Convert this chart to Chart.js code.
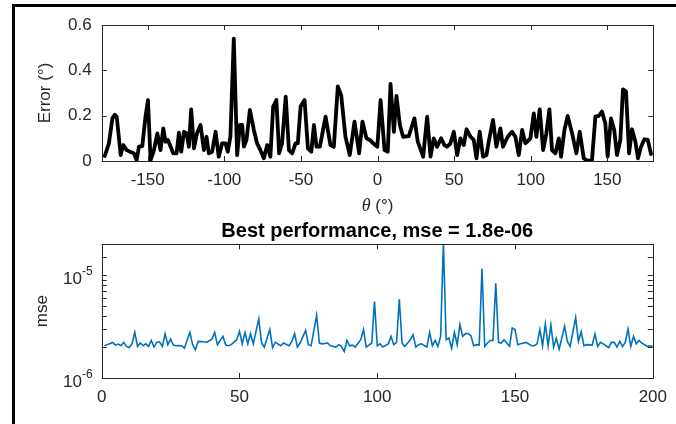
<!DOCTYPE html>
<html>
<head>
<meta charset="utf-8">
<script src="https://cdn.jsdelivr.net/npm/chart.js@4.4.1/dist/chart.umd.min.js"></script>
<style>
  html, body { margin: 0; padding: 0; background: #fff; }
  #wrap { position: relative; width: 676px; height: 424px; overflow: hidden; background: #fff; }
  #c1 { position: absolute; left: 0; top: 0; }
  #c2 { position: absolute; left: 0; top: 215px; }
  #frame { position: absolute; left: 12px; top: 4px; width: 700px; height: 440px;
           border-left: 3px solid #000; border-top: 3px solid #000; pointer-events: none; }
</style>
</head>
<body>
<div id="wrap">
  <canvas id="c1" width="676" height="215"></canvas>
  <canvas id="c2" width="676" height="209"></canvas>
  <div id="frame"></div>
</div>
<script>
// ---- top panel: angle error vs theta ----
const thetaDeg = [
  -178, -175.3, -173, -171.5, -170.2, -167.6, -165.9, -163.7, -161.1, -159, -157.2, -155.7, -153.5,
  -151.4, -149.8, -148.1, -145.9, -143.7, -141.6, -139.8, -138.3, -136.8, -135, -133.3, -131.1,
  -129.6, -128.1, -126.3, -124.6, -123.1, -121.6, -119.8, -117.7, -115.5, -113.3, -111.6, -110.1,
  -107.9, -105.7, -103.6, -101.4, -99.2, -97.7, -96, -93.8, -91.6, -89.8, -88.3, -87.2, -85.5,
  -83.3, -80.7, -78.6, -76.4, -74.2, -72, -69.9, -68.1, -66, -64.2, -62.3, -59.9,
  -57.8, -55.7, -53.5, -52, -50.2, -47.6, -45.4, -43.2, -41.5, -39.8, -37.6, -33.9, -30.7, -28.5,
  -25.9, -23.7, -20.9, -18.1, -15, -12, -9.8, -7.2, -5, -2.8, -0.1, 2, 4.6, 6.7, 8.5, 10.7, 12.4,
  14.6, 16.7, 20.4, 24.1, 26.3, 29.8, 32.4, 34.6, 36.7, 38.9, 41.5, 43.7, 45.4, 47.6, 49.8, 52,
  54.1, 56.3, 58.1,
  60.7, 62.8, 64.6, 66.7, 68.9, 71.1, 72.6, 75.4, 77.6, 80.2, 81.9, 85, 87.8, 90, 92.2, 94.4, 96.5,
  99.8, 102, 103.7, 105.9, 108.1, 110.2, 112.2, 113.9, 116.1, 118.3, 119.8, 122, 124.1, 127, 129.8,
  132, 134.6, 136.8, 140, 142.2, 144.4, 146.5, 148.7, 150.2, 152.4, 154.5, 156.3, 158.5, 160.2,
  162.2, 164.2, 166.1, 168.3, 170, 172, 174.2, 176.4, 178.5
];
const errorDeg = [
  0.022, 0.078, 0.188, 0.204, 0.196, 0.026, 0.07, 0.048, 0.04, 0.034, 0.004, 0.063, 0.066,
  0.196, 0.269, 0.004, 0.048, 0.122, 0.048, 0.144, 0.085, 0.093, 0.063, 0.034, 0.034,
  0.125, 0.041, 0.129, 0.122, 0.063, 0.228, 0.056, 0.125, 0.159, 0.048, 0.107, 0.034,
  0.041, 0.129, 0.019, 0.078, 0.078, 0.041, 0.107, 0.54, 0.026, 0.159, 0.159, 0.063, 0.093,
  0.225, 0.137, 0.078, 0.048, 0.012, 0.07, 0.019, 0.24, 0.269, 0.034, 0.078, 0.284,
  0.048, 0.034, 0.078, 0.078, 0.24, 0.269, 0.056, 0.041, 0.159, 0.063, 0.063, 0.196, 0.07, 0.063,
  0.329, 0.29, 0.107, 0.026, 0.174, 0.034, 0.174, 0.1, 0.093, 0.078, 0.063, 0.269, 0.048, 0.041, 0.34, 0.129, 0.287,
  0.159, 0.107, 0.11, 0.188, 0.085, 0.019, 0.196, 0.019, 0.1, 0.063, 0.1, 0.07, 0.063, 0.078, 0.129, 0.026,
  0.1, 0.07, 0.14,
  0.107, 0.093, 0.012, 0.129, 0.019, 0.026, 0.085, 0.181, 0.063, 0.144, 0.063, 0.107, 0.129, 0.107, 0.026, 0.137, 0.078,
  0.1, 0.21, 0.107, 0.228, 0.048, 0.122, 0.228, 0.048, 0.034, 0.1, 0.019, 0.137, 0.199, 0.122, 0.034,
  0.129, 0.012, 0.001, 0.004, 0.196, 0.199, 0.218, 0.166, 0.019, 0.188, 0.137, 0.026, 0.093, 0.316,
  0.306, 0.034, 0.14, 0.085, 0.012, 0.063, 0.096, 0.093, 0.031
];
const thetaTicks = [-150, -100, -50, 0, 50, 100, 150];
const errorTicks = [0, 0.2, 0.4, 0.6];

// ---- bottom panel: mse per epoch ----
const epochs = [
  1, 2, 4, 5, 6, 7, 8, 9, 10, 11, 12, 13, 14, 15, 16, 17, 18, 19, 20, 21, 22, 23, 24, 25, 26, 27, 28, 29, 30,
  32, 33, 34, 35, 37, 38, 40, 41, 42, 44, 45, 46, 47, 49, 50, 51, 52, 53, 54, 55, 57, 58, 59, 61, 62, 63, 65, 66, 68,
  69, 70, 71, 72, 74, 75, 76, 78, 79, 80, 82, 83, 85, 86, 87, 88, 89, 90, 91, 92, 94, 95, 96, 98, 99,
  100, 101, 102, 104, 105, 106, 107, 108, 109, 110, 112, 113, 114, 115, 116, 118, 119, 120, 121, 122, 123,
  124, 125, 126, 127, 128, 129, 130, 131, 132, 133, 134, 135, 136,
  137, 138, 139, 140, 141, 142, 143, 144, 145, 146, 147, 148, 149, 150, 151, 152, 154, 156, 157, 158, 159,
  160, 161, 162, 163, 164, 165, 166, 168, 169, 170, 172, 173, 174, 175, 176, 178, 179, 180, 181, 182, 183,
  184, 185, 186, 187, 188, 189, 190, 191, 192, 193, 194, 195, 196, 198, 199, 200
];
const mse = [
  2.06e-6, 2.11e-6, 2.22e-6, 2.09e-6, 2.14e-6, 2.06e-6, 2.22e-6, 2.03e-6, 1.98e-6, 2.15e-6, 2.78e-6, 2.03e-6,
  2.19e-6, 2.06e-6, 2.15e-6, 2.03e-6, 2.32e-6, 2.00e-6, 2.22e-6, 2.25e-6, 2.03e-6, 2.70e-6, 2.11e-6, 2.39e-6,
  2.09e-6, 2.06e-6, 2.07e-6, 2.06e-6, 1.95e-6,
  2.78e-6, 2.11e-6, 1.88e-6, 2.27e-6, 2.25e-6, 2.22e-6, 2.39e-6, 2.78e-6, 2.11e-6, 2.54e-6, 2.09e-6, 2.06e-6,
  2.11e-6, 2.36e-6, 2.85e-6, 2.15e-6, 2.78e-6, 2.15e-6, 2.70e-6, 2.15e-6, 3.76e-6, 2.19e-6, 2.00e-6, 2.96e-6,
  1.98e-6, 2.22e-6, 2.06e-6, 2.19e-6, 2.06e-6,
  2.27e-6, 2.70e-6, 2.00e-6, 2.19e-6, 2.91e-6, 2.11e-6, 2.06e-6, 4.08e-6, 2.19e-6, 2.15e-6, 2.19e-6, 2.06e-6,
  2.00e-6, 2.11e-6, 2.03e-6, 1.81e-6, 2.32e-6, 2.06e-6, 2.09e-6, 2.00e-6, 2.36e-6, 2.96e-6, 2.00e-6, 2.19e-6, 5.56e-6,
  2.06e-6, 2.15e-6, 2.00e-6, 2.15e-6, 2.54e-6, 2.11e-6, 2.22e-6, 5.82e-6, 2.19e-6, 2.03e-6, 2.36e-6, 2.64e-6,
  2.00e-6, 2.11e-6, 2.15e-6, 2.00e-6, 2.78e-6, 2.06e-6, 2.32e-6, 2.03e-6, 2.54e-6,
  2.06e-5, 2.36e-6, 2.45e-6, 1.95e-6, 2.78e-6, 2.11e-6, 3.31e-6, 2.54e-6, 2.70e-6, 2.70e-6, 2.58e-6, 2.06e-6, 2.11e-6,
  2.09e-6, 1.16e-5, 2.03e-6, 2.19e-6, 2.32e-6, 2.32e-6, 8.35e-6, 2.22e-6, 2.19e-6, 2.36e-6, 2.19e-6, 2.03e-6,
  3.07e-6, 2.96e-6, 2.11e-6, 2.15e-6, 2.22e-6, 2.06e-6, 2.06e-6, 2.15e-6, 2.96e-6,
  2.06e-6, 3.36e-6, 2.06e-6, 3.28e-6, 2.00e-6, 2.43e-6, 1.91e-6, 3.19e-6, 2.27e-6, 2.03e-6, 3.87e-6, 2.27e-6,
  2.82e-6, 2.06e-6, 2.11e-6, 2.09e-6, 2.68e-6, 2.03e-6, 2.22e-6, 2.15e-6, 2.06e-6,
  1.98e-6, 2.22e-6, 2.22e-6, 2.00e-6, 2.27e-6, 2.03e-6, 2.22e-6, 3.00e-6, 2.03e-6, 2.54e-6, 2.15e-6, 2.32e-6,
  2.19e-6, 2.03e-6, 2.06e-6, 2.03e-6
];
const epochTicks = [0, 50, 100, 150, 200];
const mseTickBase = '10';
const mseTickExponents = ['-6', '-5'];

const axisColor = '#262626';
const fontFamily = '"Liberation Sans", Arial, sans-serif';
const tickFont = { family: fontFamily, size: 17 };

// MATLAB-style box with inward ticks on all four sides
const axesBox = {
  id: 'axesBox',
  afterDatasetsDraw(chart) {
    const { ctx, chartArea: a, scales } = chart;
    const tl = 5;
    ctx.save();
    ctx.strokeStyle = axisColor;
    ctx.lineWidth = 1;
    ctx.beginPath();
    scales.x.ticks.forEach(t => {
      const px = Math.round(scales.x.getPixelForValue(t.value)) + 0.5;
      ctx.moveTo(px, a.bottom); ctx.lineTo(px, a.bottom - tl);
      ctx.moveTo(px, a.top); ctx.lineTo(px, a.top + tl);
    });
    scales.y.ticks.forEach(t => {
      const py = Math.round(scales.y.getPixelForValue(t.value)) + 0.5;
      ctx.moveTo(a.left, py); ctx.lineTo(a.left + tl, py);
      ctx.moveTo(a.right, py); ctx.lineTo(a.right - tl, py);
    });
    ctx.stroke();
    ctx.strokeRect(Math.round(a.left) + 0.5, Math.round(a.top) + 0.5,
                   Math.round(a.right) - Math.round(a.left), Math.round(a.bottom) - Math.round(a.top));
    ctx.restore();
  }
};

// theta axis label with italic theta
const thetaTitle = {
  id: 'thetaTitle',
  afterDraw(chart) {
    const { ctx, chartArea: a } = chart;
    const part1 = 'θ', part2 = ' (°)';
    const f1 = 'italic 18px "Liberation Serif", serif';
    const f2 = '17px ' + fontFamily;
    ctx.save();
    ctx.font = f1; const w1 = ctx.measureText(part1).width;
    ctx.font = f2; const w2 = ctx.measureText(part2).width;
    const x0 = (a.left + a.right) / 2 - (w1 + w2) / 2;
    const y = 206;
    ctx.fillStyle = axisColor;
    ctx.textBaseline = 'middle';
    ctx.textAlign = 'left';
    ctx.font = f1; ctx.fillText(part1, x0, y);
    ctx.font = f2; ctx.fillText(part2, x0 + w1, y);
    ctx.restore();
  }
};

// decade labels 10^n on the log axis, with a raised exponent
const decadeLabels = {
  id: 'decadeLabels',
  afterDraw(chart) {
    const { ctx, chartArea: a, scales } = chart;
    const right = a.left - 9;
    ctx.save();
    ctx.fillStyle = axisColor;
    ctx.textAlign = 'right';
    mseTickExponents.forEach(ex => {
      const py = scales.y.getPixelForValue(Math.pow(10, Number(ex)));
      ctx.font = '12px ' + fontFamily;
      const we = ctx.measureText(ex).width;
      ctx.textBaseline = 'alphabetic';
      ctx.fillText(ex, right, py - 0.5);
      ctx.font = '17px ' + fontFamily;
      ctx.textBaseline = 'middle';
      ctx.fillText(mseTickBase, right - we, py + 4);
    });
    ctx.restore();
  }
};

new Chart(document.getElementById('c1'), {
  type: 'line',
  data: {
    datasets: [{
      data: thetaDeg.map((t, i) => ({ x: t, y: errorDeg[i] })),
      borderColor: '#000000',
      borderWidth: 3.8,
      borderJoinStyle: 'round',
      borderCapStyle: 'round',
      pointRadius: 0,
      tension: 0,
      clip: 0
    }]
  },
  options: {
    animation: false,
    responsive: false,
    layout: { padding: { top: 25, right: 22.7, bottom: 0, left: 0 } },
    plugins: { legend: { display: false }, tooltip: { enabled: false } },
    scales: {
      x: {
        type: 'linear', min: -180, max: 180,
        afterBuildTicks: s => { s.ticks = thetaTicks.map(v => ({ value: v })); },
        afterFit: s => { s.height = 54; },
        grid: { display: false, drawTicks: false },
        border: { display: false },
        ticks: { font: tickFont, color: axisColor, padding: 9, maxRotation: 0, autoSkip: false }
      },
      y: {
        min: 0, max: 0.6,
        afterBuildTicks: s => { s.ticks = errorTicks.map(v => ({ value: v })); },
        afterFit: s => { s.width = 101.7; },
        grid: { display: false, drawTicks: false },
        border: { display: false },
        ticks: { font: tickFont, color: axisColor, padding: 10 },
        title: { display: true, text: 'Error (°)', color: axisColor,
                 font: { family: fontFamily, size: 17 }, padding: { top: 35, bottom: 0 } }
      }
    }
  },
  plugins: [axesBox, thetaTitle]
});

new Chart(document.getElementById('c2'), {
  type: 'line',
  data: {
    datasets: [{
      data: epochs.map((e, i) => ({ x: e, y: mse[i] })),
      borderColor: '#0072BD',
      borderWidth: 1.6,
      pointRadius: 0,
      tension: 0,
      clip: 0
    }]
  },
  options: {
    animation: false,
    responsive: false,
    layout: { padding: { top: 0, right: 19.3, bottom: 0, left: 0 } },
    plugins: { legend: { display: false }, tooltip: { enabled: false } },
    scales: {
      x: {
        type: 'linear', min: 0, max: 200,
        afterBuildTicks: s => { s.ticks = epochTicks.map(v => ({ value: v })); },
        afterFit: s => { s.height = 46; },
        grid: { display: false, drawTicks: false },
        border: { display: false },
        ticks: { font: tickFont, color: axisColor, padding: 9, maxRotation: 0, autoSkip: false }
      },
      // top axis only carries the title, centred over the plot box like MATLAB
      xTitle: {
        type: 'linear', position: 'top', min: 0, max: 200,
        afterFit: s => { s.height = 29.3; },
        grid: { display: false, drawTicks: false },
        border: { display: false },
        ticks: { display: false },
        title: {
          display: true,
          text: 'Best performance, mse = 1.8e-06',
          color: '#000000',
          font: { family: fontFamily, size: 20, weight: 'bold' },
          padding: { top: 4, bottom: 0 }
        }
      },
      y: {
        type: 'logarithmic', min: 1e-6, max: 2e-5,
        afterFit: s => { s.width = 101.7; },
        grid: { display: false, drawTicks: false },
        border: { display: false },
        ticks: { font: tickFont, color: axisColor, padding: 10, autoSkip: false, callback: () => '' },
        title: { display: true, text: 'mse', color: axisColor,
                 font: { family: fontFamily, size: 17 }, padding: { top: 32, bottom: 0 } }
      }
    }
  },
  plugins: [axesBox, decadeLabels]
});
</script>
</body>
</html>
